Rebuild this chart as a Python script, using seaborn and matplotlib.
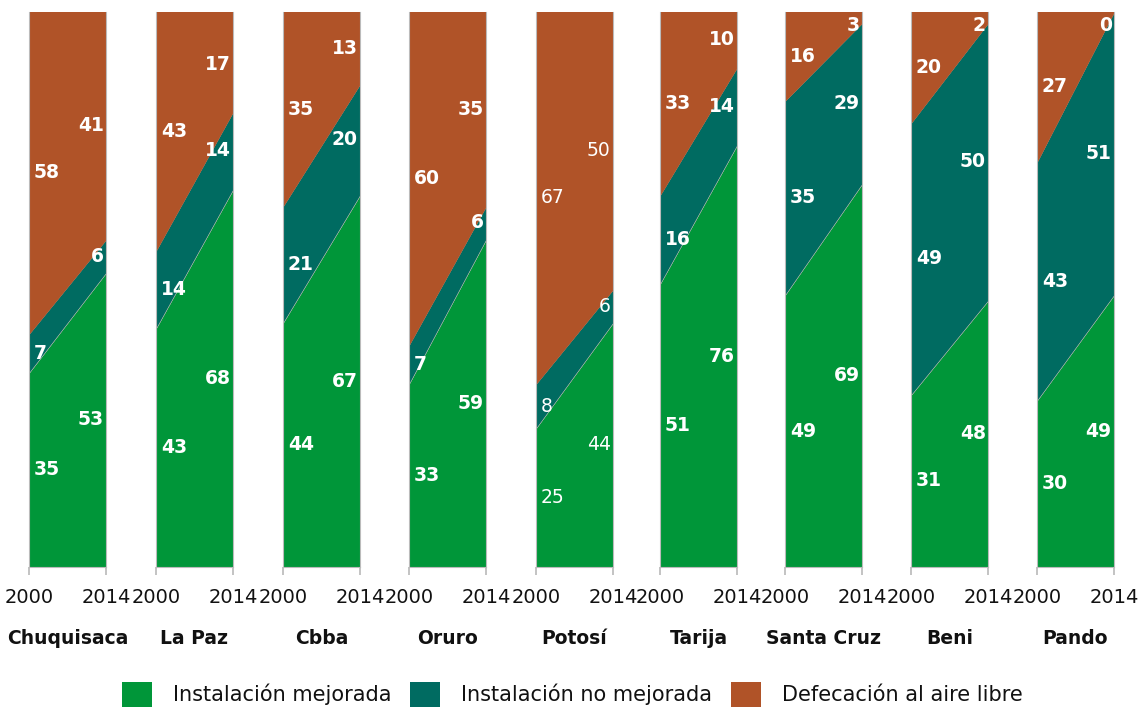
import numpy as np
import matplotlib
matplotlib.use("Agg")
import matplotlib.pyplot as plt
import seaborn as sns
from matplotlib.patches import Patch

sns.set_theme(style="white")
plt.rcParams['font.family'] = ['DejaVu Sans']

# data (% of population), 2000 and 2014
regions = ["Chuquisaca", "La Paz", "Cbba", "Oruro", "Potosí",
           "Tarija", "Santa Cruz", "Beni", "Pando"]
years = [2000, 2014]
mejorada = [[35, 53], [43, 68], [44, 67], [33, 59], [25, 44],
            [51, 76], [49, 69], [31, 48], [30, 49]]
no_mejorada = [[7, 6], [14, 14], [21, 20], [7, 6], [8, 6],
               [16, 14], [35, 29], [49, 50], [43, 51]]
aire_libre = [[58, 41], [43, 17], [35, 13], [60, 35], [67, 50],
              [33, 10], [16, 3], [20, 2], [27, 0]]
series_names = ["Instalación mejorada", "Instalación no mejorada",
                "Defecación al aire libre"]

colors = ["#009639", "#006B61", "#B05328"]

fig = plt.figure(figsize=(11.44, 7.10), dpi=100)
W, H = 1144, 710
panel_w = 77
top, bottom = 12, 567
lefts = [29, 156, 283, 409, 536, 660, 785, 911, 1037]

for i, reg in enumerate(regions):
    ax = fig.add_axes([lefts[i] / W, 1 - bottom / H, panel_w / W, (bottom - top) / H])
    ax.set_facecolor(colors[2])  # top of the stack is the open-defecation share
    vals = [mejorada[i], no_mejorada[i], aire_libre[i]]
    polys = ax.stackplot(years, vals, colors=colors, linewidth=0.3, edgecolor="#cccccc")
    polys[-1].set_edgecolor(colors[2])
    ax.set_xlim(2000, 2014)
    ax.set_ylim(0, 100)
    ax.set_xticks(years)
    ax.set_xticklabels(["2000", "2014"], fontsize=14, color="#111111")
    ax.set_yticks([20, 40, 60, 80])
    ax.set_yticklabels([])
    ax.tick_params(axis="y", direction="in", length=3, color="#bbbbbb", left=True, right=True)
    ax.tick_params(axis="x", direction="out", length=6, color="#bbbbbb", pad=9, bottom=True)
    for s in ["left", "right", "bottom"]:
        ax.spines[s].set_color("#bbbbbb")
        ax.spines[s].set_linewidth(0.8)
    ax.spines["top"].set_visible(False)
    ax.set_xlabel(reg, fontsize=13.5, fontweight="bold", labelpad=16, color="#111111")

    weight = "normal" if reg == "Potosí" else "bold"
    base = [0, 0]
    for v in vals:
        for j, yr in enumerate(years):
            yc = min(base[j] + v[j] / 2, 97.5)
            if j == 0:
                ax.text(2000.9, yc, str(v[j]), ha="left", va="center",
                        color="white", fontsize=13.5, fontweight=weight)
            else:
                ax.text(2013.6, yc, str(v[j]), ha="right", va="center",
                        color="white", fontsize=13.5, fontweight=weight)
        base = [base[0] + v[0], base[1] + v[1]]

handles = [Patch(facecolor=c, edgecolor="none") for c in colors]
fig.legend(handles, series_names, loc="lower center", ncol=3, frameon=False,
           fontsize=15, handlelength=1.45, handleheight=1.45, columnspacing=0.9,
           handletextpad=1.0, bbox_to_anchor=(0.5, -0.022), labelcolor="#111111")

fig.savefig("out.png", dpi=100)
